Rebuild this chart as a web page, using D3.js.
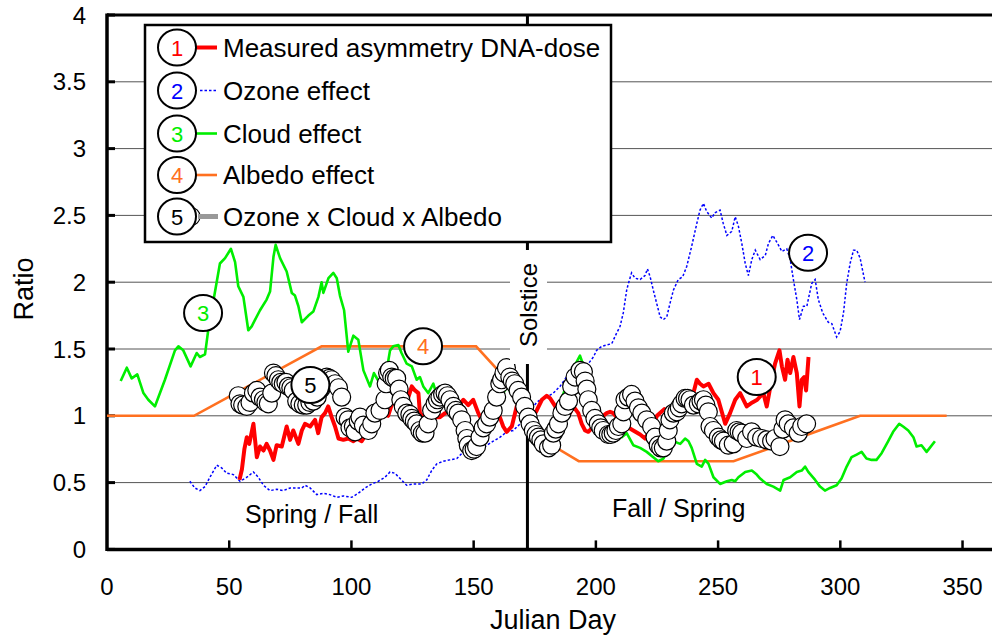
<!DOCTYPE html>
<html><head><meta charset="utf-8">
<script src="https://cdn.jsdelivr.net/npm/d3@7"></script>
<style>body{margin:0;background:#fff}svg{display:block}text{font-family:"Liberation Sans",Arial,sans-serif}</style>
</head><body>
<svg id="c" width="992" height="639"></svg>
<script>
// ---- data ----
const xTicks = [0,50,100,150,200,250,300,350];
const yTicks = [0,0.5,1,1.5,2,2.5,3,3.5,4];
const solsticeDay = 172;

const measuredDays = [54.2,55.2,56.2,57.2,58.2,59.9,61.3,62.6,64,65.3,66.7,68.1,69.4,71.5,73.5,74.9,76.2,78.3,79.7,81,83.1,85.1,86.4,87.8,89.2,90.5,91.9,93.3,94.7,96.7,98.7,100.8,102.2,104.2,106.3,107.6,109.6,111.7,113,115,117.1,119.2,121.2,123.3,124.7,126,127.4,128,129.4,132.1,134.2,136.2,138.3,140.3,141.7,143.7,145.8,147.8,149.8,151.9,153.3,156,158,160.1,162.1,163.5,165.6,167.6,169,171,173,175.8,177.9,179.9,181.3,183.4,185,187,189.4,190.8,192.8,194.2,195.6,196.9,199,201,204.4,205.8,207.1,209,212.6,215.3,218.1,220.1,222.5,225,228,231.7,234.5,237.2,239.9,241.3,242.6,244,246.1,248.1,250.1,252.9,254.9,257,259,261.7,264,266,268.5,269.9,271.9,273.3,275.1,276.1,277.4,278.4,279.5,280.8,282.2,283.3,284.2,285.2,286,287];
const measuredVals = [0.52,0.60,0.75,0.84,0.79,0.94,0.69,0.77,0.74,0.79,0.74,0.67,0.78,0.77,0.92,0.82,0.89,0.79,0.89,0.94,0.92,0.97,0.87,0.99,1.02,1.07,0.99,0.92,0.83,0.82,0.83,0.81,0.83,0.81,0.87,1.02,1.07,1.04,1.02,1.00,1.12,1.17,1.17,1.14,1.22,1.19,1.17,1.02,0.99,1.02,0.99,0.99,1.02,1.03,1.09,1.07,1.12,1.08,1.12,1.02,0.97,1.02,0.99,1.02,0.92,0.88,0.92,1.07,1.08,1.00,0.95,1.04,1.12,1.15,1.13,1.07,1.00,0.98,1.02,1.07,1.02,0.94,0.89,0.88,0.92,0.97,1.02,1.03,1.02,0.98,0.92,0.89,0.86,0.83,0.90,1.00,1.05,0.99,1.02,1.12,1.17,1.27,1.24,1.22,1.24,1.17,1.12,0.94,1.02,1.12,1.17,1.07,1.10,1.12,1.17,1.07,1.27,1.39,1.49,1.37,1.27,1.42,1.32,1.44,1.32,1.07,1.27,1.29,1.19,1.44];

const ozoneDays = [33.9,35.9,38,40.1,42.1,44.9,46.9,49,51.7,54.4,57.2,59.9,61.9,64,66.7,69.4,72.1,74.9,77.6,79.7,81,83.1,85.8,88.5,91.2,94,96.7,100.1,102.8,105.6,108.3,111,113.7,115.8,117.8,119.9,122.6,125.4,128.8,130.8,132.8,134.9,137.6,140.3,143.1,145.8,148.5,151.9,154.6,158,160.8,163.5,166.2,169,171.7,174.4,175.8,177.2,179.9,182.6,185.3,188,190.1,193.5,196.9,199,200.3,202.4,204.4,206.5,208.5,209.9,211.2,212.6,213.3,214.6,216,218.1,220.1,221.1,222.2,223.5,224.9,226.3,227.6,229,230.3,231.7,233.7,235.5,237.2,239.2,241.3,242.6,244,245.3,247.4,248.7,250.8,252.1,253.6,255.6,257,258.3,259.7,261.1,262.4,263.8,265.2,267.2,269.3,270.6,272.4,274,276.1,278.1,279.5,280.8,282.2,283.3,284.9,286.3,288.3,289.7,291,292.8,295.1,296.5,298.5,299.9,301.3,302.6,304,305.4,306.7,308.1,310.1];
const ozoneVals = [0.51,0.46,0.44,0.47,0.54,0.63,0.61,0.57,0.56,0.51,0.54,0.58,0.54,0.48,0.44,0.45,0.44,0.46,0.46,0.46,0.48,0.46,0.41,0.42,0.41,0.39,0.40,0.39,0.42,0.46,0.49,0.51,0.54,0.58,0.57,0.53,0.48,0.49,0.49,0.52,0.59,0.64,0.66,0.67,0.68,0.73,0.74,0.74,0.77,0.81,0.84,0.88,0.89,0.94,0.99,1.07,1.10,1.12,1.14,1.17,1.22,1.29,1.34,1.39,1.39,1.44,1.49,1.52,1.53,1.54,1.62,1.67,1.77,1.94,1.99,2.07,2.03,2.02,2.05,2.10,2.04,1.94,1.84,1.74,1.72,1.74,1.84,1.94,2.02,2.04,2.12,2.27,2.44,2.54,2.59,2.53,2.48,2.52,2.54,2.44,2.35,2.38,2.49,2.42,2.29,2.14,2.05,2.17,2.24,2.17,2.20,2.29,2.35,2.30,2.23,2.25,2.17,2.02,1.87,1.72,1.82,1.82,1.99,2.02,1.87,1.77,1.70,1.69,1.59,1.63,1.77,1.99,2.14,2.24,2.24,2.18,2.00];

const cloudDays = [5.6,8.1,10.1,12.4,14.9,16.9,19.6,23.7,27.8,29.2,31.2,34.2,36.7,38,40.1,41.4,44.2,46.2,48.3,50.7,52.4,53.7,55.8,57.8,59.2,60.6,62.6,65.3,66.7,68.1,69,70.8,73.5,75.6,76.9,78.3,79.7,82.4,84.4,86.5,87.8,88.5,90.6,92.6,94,95.3,97,98.7,100.8,102.8,104.9,107.6,109.2,111.7,114.4,115.8,117.1,119.2,120.5,122.6,124.7,126.7,128,129.4,131.4,133.5,135,138,141,144,147,149,151,153,156,159,161,163.4,166,169,172,175,178,181,184,187,190,193.5,196,198,201,205,208,210.6,212.6,215.3,218.1,220.8,223.5,225.5,227.6,229,231.7,234.5,236.5,237.9,239.2,241.3,243.3,244.7,246.1,248.1,250.8,253.6,255.6,257,258.3,261.1,263.8,265.8,267.2,269.9,272.6,275.4,276.8,279.5,282.2,284.2,285.6,286.9,289.7,291.7,293.7,295.8,298.5,300.5,302.6,304.6,306.7,308.7,310.7,312.8,314.8,316.9,319.6,321.6,324.1,325.7,327.8,329.9,331.2,333.2,335.3,336.6,338.7];
const cloudVals = [1.26,1.36,1.28,1.31,1.17,1.12,1.07,1.27,1.49,1.52,1.49,1.37,1.47,1.44,1.46,1.64,1.93,2.14,2.18,2.25,2.15,1.97,1.89,1.64,1.67,1.72,1.79,1.87,1.93,2.19,2.28,2.18,2.08,1.92,1.90,1.82,1.70,1.75,1.78,1.89,2.00,1.92,2.03,2.07,2.03,1.90,1.79,1.48,1.60,1.57,1.34,1.22,1.32,1.24,1.34,1.49,1.52,1.53,1.47,1.39,1.37,1.27,1.29,1.22,1.17,1.24,1.15,1.17,1.05,0.92,0.78,0.68,0.70,0.80,0.90,1.03,1.12,1.22,1.16,1.10,0.99,0.88,0.84,0.85,1.02,1.18,1.33,1.45,1.32,1.11,0.96,0.85,0.84,0.84,0.87,0.78,0.76,0.73,0.69,0.66,0.68,0.73,0.81,0.79,0.83,0.81,0.76,0.64,0.62,0.67,0.64,0.54,0.49,0.51,0.52,0.51,0.54,0.58,0.59,0.56,0.53,0.49,0.47,0.44,0.52,0.54,0.58,0.59,0.62,0.58,0.52,0.47,0.44,0.46,0.48,0.53,0.62,0.69,0.71,0.73,0.68,0.67,0.67,0.72,0.81,0.88,0.94,0.92,0.89,0.84,0.77,0.78,0.73,0.76,0.81];

const albedoDays = [0,35.6,87.8,151,161,172,183,193,256.3,308.1,343.5];
const albedoVals = [1,1,1.52,1.52,1.32,1.03,0.77,0.66,0.66,1.0,1.0];

const productDays = [53.7,54.4,55.5,57.2,58.5,59.9,61.3,62.6,64,65,66,67.4,68.1,69.1,70.1,71.1,72.1,73.2,74.2,75.2,76.2,77.6,78.9,80.3,81.7,83,84.4,86,87.5,88.8,89.9,91,91.9,93.3,94.7,96,97.4,98.7,99.4,100.8,101.5,102.8,103.5,104.9,106.9,108.3,109.6,111.7,113.7,114.2,114.8,115.5,116.5,117.5,118.5,119.5,120.2,121.2,122.6,123.9,124.7,125.7,126.7,128,129,130.1,131.4,132.8,134.2,135.2,136.2,137.3,138.3,139.3,140.3,141.7,142.7,143.7,145.1,146.5,147.2,147.8,149.2,150.2,151.2,152.6,153.9,155.3,156.6,158,159.4,160.7,161.4,162.4,163.4,164.8,165.8,166.8,168.2,169.6,170.9,172.3,173.1,174.4,175.5,176.5,177.5,178.5,180.6,181.9,182.6,183.6,184.7,186.1,187.4,188.8,190.1,191.5,193.5,194.9,195.6,196.3,196.9,198.3,199.6,201,202,203,205.1,206.1,207.1,208.2,209.2,210.6,211.3,211.9,213.3,214.6,216,217.4,218.8,220.8,222.8,224.2,225.5,226.5,227.6,229,229.6,230.3,231.7,233.1,234.1,235.1,236.5,237.5,238.5,239.9,241.9,243,244,245,246,246.7,248.1,250.1,251.2,252.2,254.2,256.2,257.6,258.6,259.6,261.7,263.7,265.8,267.8,269.9,271.9,273.3,275.3,276.5,277.4,278.7,280.8,282.8,284.2,286.2];
const productVals = [1.15,1.09,1.08,1.07,1.10,1.17,1.19,1.14,1.12,1.10,1.09,1.17,1.32,1.30,1.27,1.25,1.24,1.25,1.22,1.21,1.19,1.11,1.09,1.08,1.08,1.10,1.11,1.14,1.20,1.26,1.29,1.28,1.27,1.24,1.21,1.14,0.99,0.97,0.91,0.92,0.88,0.96,0.99,0.93,0.89,0.94,1.02,1.04,1.12,1.24,1.32,1.34,1.29,1.28,1.28,1.20,1.12,1.07,1.02,1.01,0.98,0.96,0.94,0.89,0.87,0.87,0.94,1.04,1.09,1.12,1.14,1.16,1.17,1.15,1.12,1.07,1.04,1.02,0.97,0.89,0.83,0.78,0.74,0.75,0.77,0.84,0.91,0.94,0.99,1.04,1.14,1.24,1.27,1.32,1.36,1.29,1.26,1.24,1.19,1.14,1.07,0.99,0.94,0.89,0.86,0.84,0.82,0.79,0.76,0.78,0.87,0.90,0.94,1.02,1.07,1.11,1.22,1.29,1.34,1.33,1.26,1.20,1.12,1.04,0.98,0.94,0.91,0.89,0.86,0.86,0.87,0.89,0.92,0.94,1.03,1.12,1.14,1.16,1.11,1.06,1.02,0.97,0.92,0.84,0.78,0.76,0.76,0.81,0.89,0.97,1.02,1.03,1.06,1.09,1.13,1.13,1.12,1.08,1.09,1.11,1.12,1.08,1.03,0.92,0.89,0.84,0.82,0.81,0.78,0.79,0.89,0.88,0.87,0.83,0.88,0.84,0.83,0.82,0.81,0.83,0.77,0.90,0.97,0.94,0.91,0.87,0.92,0.94];

const legendLabels = ["Measured asymmetry DNA-dose","Ozone effect","Cloud effect","Albedo effect","Ozone x Cloud x Albedo"];
const seriesColors = ["#ff0000","#0000ff","#00ee00","#ff7020","#000000"];
// annotation markers: [label, day, value]
const markerLabels = ["1","2","3","4","5"];
const markerDays = [265.8,286.8,39.3,129.3,83.2];
const markerVals = [1.29,2.22,1.77,1.52,1.23];

// ---- chart ----
const svg = d3.select("#c");
const x = d3.scaleLinear().domain([0,365]).range([107,999.2]);
const y = d3.scaleLinear().domain([0,4]).range([549.4,15]);
const W = 992;

// gridlines
svg.append("g").selectAll("line").data(yTicks.filter(v=>v>0&&v<4)).join("line")
  .attr("x1",x(0)).attr("x2",W).attr("y1",d=>y(d)).attr("y2",d=>y(d))
  .attr("stroke","#555").attr("stroke-width",1);

// frame: top, left, bottom
svg.append("line").attr("x1",x(0)).attr("x2",W).attr("y1",y(4)).attr("y2",y(4)).attr("stroke","#000").attr("stroke-width",3);
svg.append("line").attr("x1",x(0)).attr("x2",x(0)).attr("y1",y(4)-1.5).attr("y2",y(0)+1.5).attr("stroke","#000").attr("stroke-width",3.5);
svg.append("line").attr("x1",x(0)).attr("x2",W).attr("y1",y(0)).attr("y2",y(0)).attr("stroke","#000").attr("stroke-width",3.5);

// y ticks (inward)
svg.append("g").selectAll("line").data(yTicks).join("line")
  .attr("x1",x(0)).attr("x2",x(0)+8).attr("y1",d=>y(d)).attr("y2",d=>y(d))
  .attr("stroke","#000").attr("stroke-width",3);
svg.append("g").selectAll("text").data(yTicks).join("text")
  .attr("x",86).attr("y",d=>y(d)+8.5).attr("text-anchor","end")
  .attr("font-size",24).text(d=>d3.format("~g")(d));
// x ticks (inward)
svg.append("g").selectAll("line").data(xTicks.filter(d=>d>0)).join("line")
  .attr("x1",d=>x(d)).attr("x2",d=>x(d)).attr("y1",y(0)).attr("y2",y(0)-9)
  .attr("stroke","#000").attr("stroke-width",2.5);
svg.append("g").selectAll("text").data(xTicks).join("text")
  .attr("x",d=>x(d)).attr("y",595).attr("text-anchor","middle")
  .attr("font-size",24).text(d=>d);

// axis titles
svg.append("text").attr("x",553).attr("y",629).attr("text-anchor","middle").attr("font-size",27).text("Julian Day");
svg.append("text").attr("transform","translate(33,289) rotate(-90)").attr("text-anchor","middle").attr("font-size",27).text("Ratio");

// solstice line
svg.append("line").attr("x1",x(solsticeDay)).attr("x2",x(solsticeDay)).attr("y1",y(4)).attr("y2",y(0))
  .attr("stroke","#000").attr("stroke-width",3);

const lineOf = (days, vals) => d3.line().x((d,i)=>x(days[i])).y((d,i)=>y(vals[i]))(vals);

// albedo
svg.append("path").attr("d",lineOf(albedoDays,albedoVals)).attr("fill","none").attr("stroke",seriesColors[3]).attr("stroke-width",2.6);
// ozone
svg.append("path").attr("d",lineOf(ozoneDays,ozoneVals)).attr("fill","none").attr("stroke",seriesColors[1]).attr("stroke-width",1.5).attr("stroke-dasharray","2.5,2");
// cloud
svg.append("path").attr("d",lineOf(cloudDays,cloudVals)).attr("fill","none").attr("stroke",seriesColors[2]).attr("stroke-width",2.6).attr("stroke-linejoin","round");
// measured
svg.append("path").attr("d",lineOf(measuredDays,measuredVals)).attr("fill","none").attr("stroke",seriesColors[0]).attr("stroke-width",4).attr("stroke-linejoin","round");
// product circles
svg.append("g").selectAll("circle").data(productVals).join("circle")
  .attr("cx",(d,i)=>x(productDays[i])).attr("cy",d=>y(d)).attr("r",9)
  .attr("fill","#fff").attr("stroke","#000").attr("stroke-width",1.2);

// white box behind "Solstice"
svg.append("rect").attr("x",510).attr("y",250).attr("width",37).attr("height",114).attr("fill","#fff");
svg.append("text").attr("transform",`translate(537,305) rotate(-90)`).attr("text-anchor","middle").attr("font-size",24).text("Solstice");

// season labels
svg.append("text").attr("x",245).attr("y",523).attr("font-size",25).text("Spring / Fall");
svg.append("text").attr("x",612).attr("y",517).attr("font-size",25).text("Fall / Spring");

// annotation markers
const mk = svg.append("g").selectAll("g").data(markerLabels).join("g")
  .attr("transform",(d,i)=>`translate(${x(markerDays[i])},${y(markerVals[i])})`);
mk.append("ellipse").attr("rx",19).attr("ry",18).attr("fill","#fff").attr("stroke","#000").attr("stroke-width",2);
mk.append("text").attr("text-anchor","middle").attr("y",8).attr("font-size",22)
  .attr("fill",(d,i)=>i===4?"#000":seriesColors[i]).text(d=>d);

// legend
const lg = svg.append("g");
lg.append("rect").attr("x",145).attr("y",25).attr("width",466).attr("height",217).attr("fill","#fff").attr("stroke","#000").attr("stroke-width",2.5);
const rowY = [47.5,90.5,133.5,175,216.5];
const rows = lg.selectAll("g").data(legendLabels).join("g").attr("transform",(d,i)=>`translate(0,${rowY[i]})`);
rows.each(function(d,i){
  const g = d3.select(this);
  if(i===0) g.append("line").attr("x1",196).attr("x2",217).attr("stroke","#ff0000").attr("stroke-width",4);
  if(i===1) g.append("line").attr("x1",200).attr("x2",217).attr("stroke","#0000ff").attr("stroke-width",1.5).attr("stroke-dasharray","2.5,2");
  if(i===2) g.append("line").attr("x1",196).attr("x2",217).attr("stroke","#00ee00").attr("stroke-width",2.6);
  if(i===3) g.append("line").attr("x1",196).attr("x2",217).attr("stroke","#ff7020").attr("stroke-width",2.6);
  if(i===4){
    g.append("circle").attr("cx",191).attr("r",9).attr("fill","#fff").attr("stroke","#000").attr("stroke-width",1.2);
    g.append("line").attr("x1",198).attr("x2",218).attr("stroke","#999").attr("stroke-width",5);
  }
  g.append("ellipse").attr("cx",177).attr("rx",19).attr("ry",18).attr("fill","#fff").attr("stroke","#000").attr("stroke-width",2);
  g.append("text").attr("x",177).attr("y",8).attr("text-anchor","middle").attr("font-size",22)
    .attr("fill",i===4?"#000":seriesColors[i]).text(markerLabels[i]);
  g.append("text").attr("x",223).attr("y",9.3).attr("font-size",26).text(d);
});
</script>
</body></html>
